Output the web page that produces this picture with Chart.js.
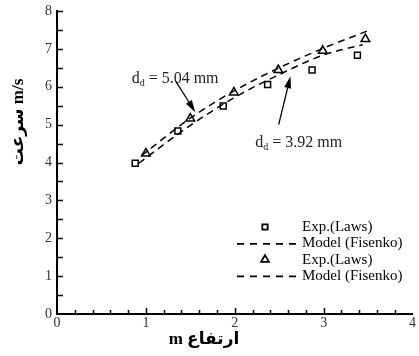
<!DOCTYPE html>
<html>
<head>
<meta charset="utf-8">
<script src="https://cdn.jsdelivr.net/npm/chart.js@4"></script>
<style>
html,body{margin:0;padding:0;background:#fff;}
canvas{display:block;}
</style>
</head>
<body>
<canvas id="c" width="419" height="356"></canvas>
<script>
// ---- data ----
const xTicks = [0, 1, 2, 3, 4];
const yTicks = [0, 1, 2, 3, 4, 5, 6, 7, 8];
const expSquareX = [0.88, 1.36, 1.87, 2.37, 2.87, 3.38];
const expSquareY = [3.98, 4.83, 5.49, 6.06, 6.44, 6.83];
const modelLowX = [0.92, 1.5, 2.0, 2.5, 3.0, 3.44];
const modelLowY = [3.98, 4.98, 5.72, 6.32, 6.84, 7.11];
const expTriX = [1.0, 1.5, 1.99, 2.49, 2.99, 3.47];
const expTriY = [4.24, 5.16, 5.85, 6.44, 6.95, 7.26];
const modelHighX = [0.95, 1.5, 2.0, 2.5, 3.0, 3.5];
const modelHighY = [4.18, 5.17, 5.9, 6.5, 7.02, 7.48];
const seriesLabels = ['Exp.(Laws)', 'Model (Fisenko)', 'Exp.(Laws)', 'Model (Fisenko)'];
const xTitle = 'm ارتفاع';
const yTitle = 'سرعت m/s';
const noteHigh = {main: 'd', sub: 'd', rest: ' = 5.04 mm'};
const noteLow = {main: 'd', sub: 'd', rest: ' = 3.92 mm'};

const pts = (xs, ys) => xs.map((x, i) => ({x: x, y: ys[i]}));

const serif = "'Liberation Serif', 'DejaVu Serif', serif";

const decorPlugin = {
  id: 'decor',
  afterDraw(chart) {
    const ctx = chart.ctx;
    const xs = chart.scales.x, ys = chart.scales.y;
    const ca = chart.chartArea;
    ctx.save();
    // inward ticks
    ctx.strokeStyle = '#000';
    ctx.lineWidth = 1.5;
    for (let v = 0.2; v < 4; v += 0.2) {
      const px = Math.round(xs.getPixelForValue(v)) + 0.5;
      const major = Math.abs(v - Math.round(v)) < 1e-6;
      const len = major ? 6 : 4;
      ctx.beginPath(); ctx.moveTo(px, ca.bottom); ctx.lineTo(px, ca.bottom - len); ctx.stroke();
    }
    for (let v = 0.5; v <= 8.001; v += 0.5) {
      const py = Math.round(ys.getPixelForValue(v)) + 0.5;
      const len = 6;
      ctx.beginPath(); ctx.moveTo(ca.left, py); ctx.lineTo(ca.left + len, py); ctx.stroke();
    }
    // axis titles
    ctx.fillStyle = '#000';
    ctx.textAlign = 'center';
    ctx.textBaseline = 'middle';
    ctx.font = "bold 17px 'Liberation Serif', 'DejaVu Sans', serif";
    ctx.fillText(xTitle, 204, 340);
    ctx.save();
    ctx.translate(19, 122);
    ctx.rotate(-Math.PI / 2);
    ctx.fillText(yTitle, 0, 0);
    ctx.restore();

    // annotations
    const drawNote = (note, xv, yv) => {
      let x = xs.getPixelForValue(xv);
      const y = ys.getPixelForValue(yv);
      ctx.textAlign = 'left';
      ctx.textBaseline = 'alphabetic';
      ctx.fillStyle = '#222';
      ctx.font = '16px ' + serif;
      ctx.fillText(note.main, x, y);
      x += ctx.measureText(note.main).width;
      ctx.font = '10px ' + serif;
      ctx.fillText(note.sub, x, y + 3);
      x += ctx.measureText(note.sub).width;
      ctx.font = '16px ' + serif;
      ctx.fillText(note.rest, x, y);
    };
    const drawArrow = (x1v, y1v, x2v, y2v) => {
      const x1 = xs.getPixelForValue(x1v), y1 = ys.getPixelForValue(y1v);
      const x2 = xs.getPixelForValue(x2v), y2 = ys.getPixelForValue(y2v);
      const a = Math.atan2(y2 - y1, x2 - x1);
      const hl = 12, hw = 3.5;
      ctx.strokeStyle = '#000';
      ctx.lineWidth = 1.3;
      ctx.beginPath();
      ctx.moveTo(x1, y1);
      ctx.lineTo(x2 - hl * Math.cos(a), y2 - hl * Math.sin(a));
      ctx.stroke();
      ctx.fillStyle = '#000';
      ctx.beginPath();
      ctx.moveTo(x2, y2);
      ctx.lineTo(x2 - hl * Math.cos(a) + hw * Math.sin(a), y2 - hl * Math.sin(a) - hw * Math.cos(a));
      ctx.lineTo(x2 - hl * Math.cos(a) - hw * Math.sin(a), y2 - hl * Math.sin(a) + hw * Math.cos(a));
      ctx.closePath();
      ctx.fill();
    };
    drawNote(noteHigh, 0.84, 6.1);
    drawArrow(1.335, 6.15, 1.556, 5.33);
    drawNote(noteLow, 2.23, 4.42);
    drawArrow(2.494, 5.0, 2.627, 6.28);

    // legend
    const lx = 302, ly0 = 227, dy = 16.3;
    chart.data.datasets.forEach((ds, i) => {
      const y = ly0 + i * dy;
      ctx.fillStyle = '#000';
      ctx.font = '15px ' + serif;
      ctx.textAlign = 'left';
      ctx.textBaseline = 'middle';
      ctx.fillText(ds.label, lx, y);
      ctx.strokeStyle = '#000';
      if (ds.showLine) {
        ctx.lineWidth = 1.8;
        ctx.setLineDash([7, 6]);
        ctx.beginPath(); ctx.moveTo(237, y + 0.5); ctx.lineTo(298, y + 0.5); ctx.stroke();
        ctx.setLineDash([]);
      } else {
        ctx.lineWidth = 1.8;
        ctx.fillStyle = 'rgba(0,0,0,0)';
        Chart.helpers.drawPoint(ctx, {pointStyle: ds.pointStyle, radius: ds.pointRadius * 0.9, borderWidth: 1.8, rotation: 0}, 265, y);
      }
    });
    ctx.restore();
  }
};

const chart = new Chart(document.getElementById('c'), {
  type: 'scatter',
  data: {
    datasets: [
      {label: seriesLabels[0], data: pts(expSquareX, expSquareY), pointStyle: 'rect', pointRadius: 4.2,
        borderColor: '#000', backgroundColor: 'rgba(0,0,0,0)', borderWidth: 1.5, showLine: false},
      {label: seriesLabels[1], data: pts(modelLowX, modelLowY), showLine: true, pointRadius: 0,
        borderColor: '#000', borderWidth: 1.5, borderDash: [7, 5], cubicInterpolationMode: 'monotone', fill: false},
      {label: seriesLabels[2], data: pts(expTriX, expTriY), pointStyle: 'triangle', pointRadius: 5,
        borderColor: '#000', backgroundColor: 'rgba(0,0,0,0)', borderWidth: 1.5, showLine: false},
      {label: seriesLabels[3], data: pts(modelHighX, modelHighY), showLine: true, pointRadius: 0,
        borderColor: '#000', borderWidth: 1.5, borderDash: [7, 5], cubicInterpolationMode: 'monotone', fill: false}
    ]
  },
  options: {
    responsive: false,
    animation: false,
    devicePixelRatio: 1,
    layout: {padding: {top: 11, left: 0, right: 0, bottom: 0}},
    plugins: {legend: {display: false}, tooltip: {enabled: false}},
    scales: {
      x: {
        type: 'linear', min: 0, max: 4,
        afterBuildTicks: (s) => { s.ticks = xTicks.map(v => ({value: v})); },
        ticks: {font: {family: serif, size: 14}, color: '#333', padding: 1, maxRotation: 0, autoSkip: false},
        grid: {drawOnChartArea: false, drawTicks: false},
        border: {color: '#000', width: 2},
        afterFit: (s) => { s.height = 42; s.paddingLeft = 0; s.paddingRight = 0; }
      },
      y: {
        type: 'linear', min: 0, max: 8,
        afterBuildTicks: (s) => { s.ticks = yTicks.map(v => ({value: v})); },
        ticks: {font: {family: serif, size: 14}, color: '#333', padding: 5, autoSkip: false},
        grid: {drawOnChartArea: false, drawTicks: false},
        border: {color: '#000', width: 2},
        afterFit: (s) => { s.width = 57; s.paddingTop = 0; s.paddingBottom = 0; }
      }
    }
  },
  plugins: [decorPlugin]
});
</script>
</body>
</html>
